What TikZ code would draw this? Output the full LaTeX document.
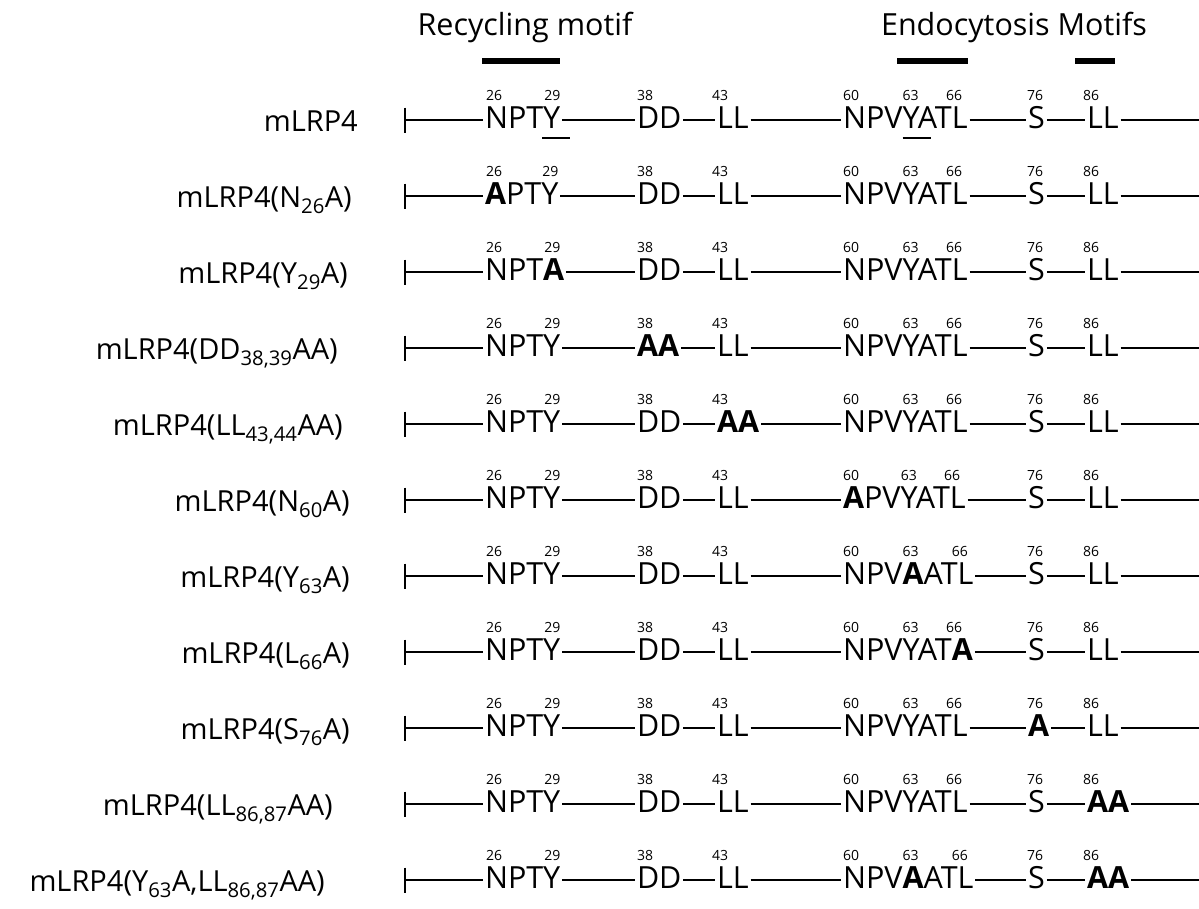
\documentclass[tikz,border=0pt]{standalone}
\usepackage{fontspec}
\setmainfont{Open Sans}
\usepackage{tikz}
\usetikzlibrary{positioning}

\newcommand{\bbh}{8pt}% height of the backbone above the residue baseline

\tikzset{
  title/.style={anchor=base,inner sep=0pt,font=\fontsize{30.5}{32}\selectfont},
  lbl/.style={anchor=base east,inner sep=0pt,font=\fontsize{29}{30}\selectfont},
  res/.style={anchor=base west,inner sep=0pt,outer sep=0pt,font=\fontsize{30.5}{32}\selectfont},
  num/.style={anchor=base west,inner sep=0pt,font=\fontsize{14}{15}\selectfont},
  seqline/.style={line width=2.6pt},
  link/.style={seqline,shorten <=2pt,shorten >=2pt},
  motifbar/.style={line width=6pt},
  uline/.style={line width=2.6pt}
}

\begin{document}
\begin{tikzpicture}[x=1pt,y=-1pt]
  \useasboundingbox (0,0) rectangle (1199,908);
  % headings and motif bars
  \node[title] (recyc) at (525,35) {Recycling motif};
  \node[title] (endo) at (1014,35) {Endocytosis Motifs};
  \draw[motifbar] (482,61) -- (560,61);
  \draw[motifbar] (897,61) -- (968,61);
  \draw[motifbar] (1075,61) -- (1115,61);
  % one row per construct
  \foreach \r/\lab/\lx/\pa/\pb/\pc/\pd/\pe/\pf/\pg/\ph/\pk in {
    1/{mLRP4}/358/NPT/Y/DD/LL/NPV/YAT/L/S/LL,
    2/{mLRP4(N\textsubscript{26}A)}/352/\textbf{A}PT/Y/DD/LL/NPV/YAT/L/S/LL,
    3/{mLRP4(Y\textsubscript{29}A)}/348/NPT/\textbf{A}/DD/LL/NPV/YAT/L/S/LL,
    4/{mLRP4(DD\textsubscript{38,39}AA)}/338/NPT/Y/\textbf{AA}/LL/NPV/YAT/L/S/LL,
    5/{mLRP4(LL\textsubscript{43,44}AA)}/343/NPT/Y/DD/\textbf{AA}/NPV/YAT/L/S/LL,
    6/{mLRP4(N\textsubscript{60}A)}/350/NPT/Y/DD/LL/\textbf{A}PV/YAT/L/S/LL,
    7/{mLRP4(Y\textsubscript{63}A)}/350/NPT/Y/DD/LL/NPV/\textbf{A}AT/L/S/LL,
    8/{mLRP4(L\textsubscript{66}A)}/350/NPT/Y/DD/LL/NPV/YAT/\textbf{A}/S/LL,
    9/{mLRP4(S\textsubscript{76}A)}/350/NPT/Y/DD/LL/NPV/YAT/L/\textbf{A}/LL,
    10/{mLRP4(LL\textsubscript{86,87}AA)}/333/NPT/Y/DD/LL/NPV/YAT/L/S/\textbf{AA},
    11/{mLRP4(Y\textsubscript{63}A,LL\textsubscript{86,87}AA)}/325/NPT/Y/DD/LL/NPV/\textbf{A}AT/L/S/\textbf{AA}}{
    \pgfmathsetmacro{\yl}{120+(\r-1)*76}
    \node[lbl] (lab\r) at (\lx,\yl+11) {\lab};
    \coordinate (s\r) at (405,\yl);
    \coordinate (e\r) at (1199,\yl);
    \node[res] (ga\r) at (485,\yl+8) {\pa};
    \node[res] (gb\r) at (ga\r.base east) {\pb};
    \node[res] (gc\r) at (637,\yl+8) {\pc};
    \node[res] (gd\r) at (717,\yl+8) {\pd};
    \node[res] (ge\r) at (843,\yl+8) {\pe};
    \node[res] (gf\r) at (ge\r.base east) {\pf};
    \node[res] (gg\r) at (gf\r.base east) {\pg};
    \node[res] (gh\r) at (1028,\yl+8) {\ph};
    \node[res] (gk\r) at (1087,\yl+8) {\pk};
    % residue numbers
    \node[num] (n26-\r) at ([xshift=1pt,yshift=28pt]ga\r.base west) {26};
    \node[num] (n29-\r) at ([xshift=1pt,yshift=28pt]gb\r.base west) {29};
    \node[num] (n38-\r) at ([yshift=28pt]gc\r.base west) {38};
    \node[num] (n43-\r) at ([xshift=-5pt,yshift=28pt]gd\r.base west) {43};
    \node[num] (n60-\r) at ([yshift=28pt]ge\r.base west) {60};
    \node[num] (n63-\r) at ([yshift=28pt]gf\r.base west) {63};
    \node[num] (n66-\r) at ([xshift=-6pt,yshift=28pt]gg\r.base west) {66};
    \node[num] (n76-\r) at ([xshift=-1pt,yshift=28pt]gh\r.base west) {76};
    \node[num] (n86-\r) at ([xshift=-4pt,yshift=28pt]gk\r.base west) {86};
    % backbone
    \draw[seqline] ([yshift=12.5pt]s\r) -- ([yshift=-12.5pt]s\r);
    \draw[seqline,shorten >=2pt] (s\r) -- ([yshift=\bbh]ga\r.base west);
    \draw[link] ([yshift=\bbh]gb\r.base east) -- ([yshift=\bbh]gc\r.base west);
    \draw[link] ([yshift=\bbh]gc\r.base east) -- ([yshift=\bbh]gd\r.base west);
    \draw[link] ([yshift=\bbh]gd\r.base east) -- ([yshift=\bbh]ge\r.base west);
    \draw[link] ([yshift=\bbh]gg\r.base east) -- ([yshift=\bbh]gh\r.base west);
    \draw[link] ([yshift=\bbh]gh\r.base east) -- ([yshift=\bbh]gk\r.base west);
    \draw[seqline,shorten <=2pt] ([yshift=\bbh]gk\r.base east) -- (e\r);
  }
  % tyrosines underlined in the wild type
  \draw[uline] ([xshift=-1pt,yshift=-10pt]gb1.base west) -- ++(28,0);
  \draw[uline] ([yshift=-10pt]gf1.base west) -- ++(28,0);
\end{tikzpicture}
\end{document}
